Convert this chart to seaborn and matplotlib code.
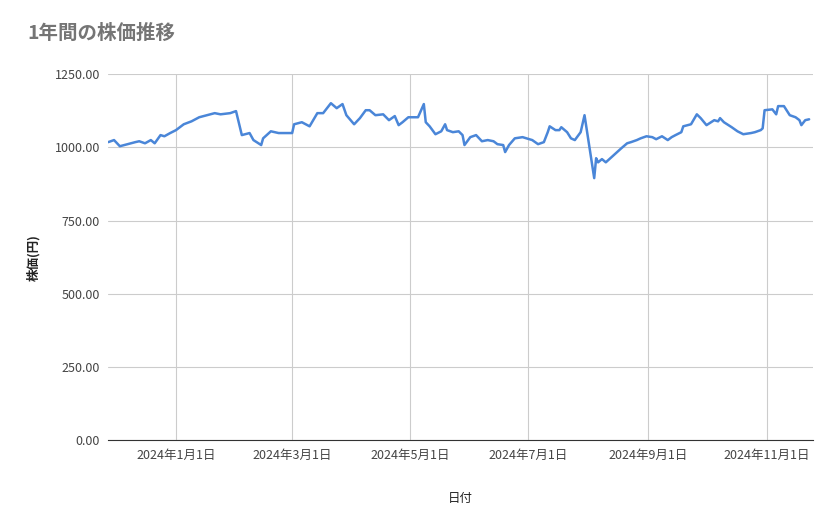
import pandas as pd
import seaborn as sns
import matplotlib.dates as mdates
from matplotlib import pyplot as plt
from matplotlib.ticker import FuncFormatter

start = pd.Timestamp("2023-11-27")
day_offsets = [0, 3, 6, 10, 14, 16, 19, 22, 24, 27, 29, 32, 35, 39, 43, 47, 51, 55, 58, 63,
               66, 69, 73, 75, 79, 80, 84, 88, 93, 95, 96, 100, 104, 108, 111, 115, 118, 121, 123, 127,
               130, 133, 135, 138, 142, 145, 148, 150, 152, 155, 160, 163, 164, 166, 169, 172, 174, 175, 178, 181,
               183, 184, 187, 190, 193, 196, 199, 201, 204, 205, 207, 210, 214, 216, 219, 222, 225, 227, 228, 231,
               233, 234, 237, 239, 241, 244, 246, 251, 252, 253, 255, 257, 261, 265, 268, 270, 273, 275, 278, 281,
               283, 286, 289, 291, 293, 296, 297, 301, 304, 306, 309, 313, 315, 316, 318, 322, 325, 328, 332, 334,
               337, 338, 339, 343, 345, 346, 349, 352, 355, 357, 358, 360, 362]
prices = [1018, 1025, 1004, 1011, 1018, 1021, 1014, 1025, 1014, 1042, 1038, 1049, 1059, 1079, 1089, 1103, 1110, 1117, 1113, 1117,
          1124, 1042, 1049, 1025, 1008, 1031, 1055, 1049, 1049, 1049, 1079, 1086, 1072, 1117, 1117, 1151, 1134, 1148, 1110, 1079,
          1100, 1127, 1127, 1110, 1113, 1093, 1107, 1076, 1086, 1103, 1103, 1148, 1086, 1072, 1045, 1055, 1079, 1059, 1052, 1055,
          1042, 1008, 1035, 1042, 1021, 1025, 1021, 1011, 1008, 984, 1008, 1031, 1035, 1031, 1025, 1011, 1018, 1052, 1072, 1059,
          1059, 1069, 1052, 1031, 1025, 1052, 1110, 895, 963, 949, 960, 949, 973, 997, 1014, 1018, 1025, 1031, 1038, 1035,
          1028, 1038, 1025, 1035, 1042, 1052, 1072, 1079, 1113, 1100, 1076, 1093, 1089, 1100, 1086, 1069, 1055, 1045, 1049, 1052,
          1059, 1065, 1127, 1130, 1113, 1141, 1141, 1110, 1103, 1093, 1076, 1093, 1096]

df = pd.DataFrame({"date": start + pd.to_timedelta(day_offsets, unit="D"), "price": prices})

sns.set_style("white")
plt.rcParams["font.family"] = ["Noto Sans CJK JP", "DejaVu Sans"]

fig, ax = plt.subplots(figsize=(8.39, 5.19), dpi=100)
fig.subplots_adjust(left=0.129, right=0.969, top=0.857, bottom=0.152)

sns.lineplot(data=df, x="date", y="price", ax=ax, color="#4a86d8", linewidth=1.8)

ax.set_ylim(0, 1250)
ax.set_yticks([0, 250, 500, 750, 1000, 1250])
ax.yaxis.set_major_formatter(FuncFormatter(lambda v, p: f"{v:.2f}"))
ax.set_xlim(start, pd.Timestamp("2024-11-25"))
ticks = pd.to_datetime(["2024-01-01", "2024-03-01", "2024-05-01", "2024-07-01", "2024-09-01", "2024-11-01"])
ax.set_xticks(ticks)
ax.set_xticklabels([f"{t.year}年{t.month}月{t.day}日" for t in ticks])
ax.grid(True, color="#cccccc", linewidth=0.8)
for s in ["top", "right", "left"]:
    ax.spines[s].set_visible(False)
ax.spines["bottom"].set_color("#333333")
ax.tick_params(length=0, labelsize=9, colors="#444444", pad=6)

ax.set_xlabel("日付", fontsize=9, color="#222222", labelpad=22)
ax.set_ylabel("株価(円)", fontsize=9, color="#222222", fontweight="bold", labelpad=10)
fig.text(0.033, 0.925, "1年間の株価推移", fontsize=14, color="#757575", fontweight="bold")

fig.savefig("out.png", dpi=100)
